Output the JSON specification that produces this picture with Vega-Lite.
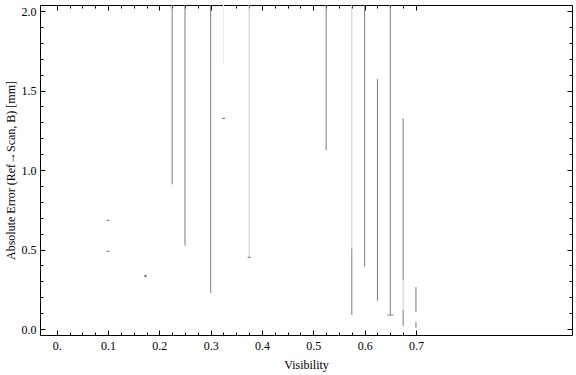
{
  "$schema": "https://vega.github.io/schema/vega-lite/v6.json",
  "width": 532,
  "height": 330,
  "autosize": "none",
  "padding": {"left": 40, "top": 5, "right": 4, "bottom": 40},
  "background": "white",
  "config": {
    "view": {"stroke": null},
    "font": "Liberation Serif",
    "axis": {
      "domainColor": "black",
      "domainWidth": 1,
      "tickColor": "black",
      "tickWidth": 1,
      "labelColor": "black",
      "labelFont": "Liberation Serif",
      "labelFontSize": 12,
      "titleFont": "Liberation Serif",
      "titleFontSize": 12,
      "titleFontWeight": "normal",
      "titleColor": "black",
      "grid": false
    }
  },
  "datasets": {
    "segs": [
      {"v": 0.225, "lo": 0.91, "hi": 2.2, "c": "gray"},
      {"v": 0.25, "lo": 0.524, "hi": 2.2, "c": "gray"},
      {"v": 0.3, "lo": 0.228, "hi": 2.2, "c": "gray"},
      {"v": 0.325, "lo": 1.667, "hi": 2.2, "c": "faint"},
      {"v": 0.375, "lo": 0.451, "hi": 2.2, "c": "blue"},
      {"v": 0.525, "lo": 1.126, "hi": 2.2, "c": "gray"},
      {"v": 0.575, "lo": 0.507, "hi": 2.2, "c": "blue"},
      {"v": 0.575, "lo": 0.088, "hi": 0.507, "c": "gray"},
      {"v": 0.6, "lo": 0.392, "hi": 2.2, "c": "gray"},
      {"v": 0.625, "lo": 0.178, "hi": 1.572, "c": "gray"},
      {"v": 0.65, "lo": 0.088, "hi": 2.2, "c": "gray"},
      {"v": 0.675, "lo": 0.31, "hi": 1.325, "c": "gray"},
      {"v": 0.675, "lo": 0.12, "hi": 0.31, "c": "blue"},
      {"v": 0.675, "lo": 0.02, "hi": 0.12, "c": "gray"},
      {"v": 0.7, "lo": 0.107, "hi": 0.264, "c": "gray"},
      {"v": 0.7, "lo": 0.006, "hi": 0.044, "c": "gray"}
    ],
    "dots": [
      {"v": 0.1, "e": 0.684, "k": "dash"},
      {"v": 0.1, "e": 0.489, "k": "dash"},
      {"v": 0.325, "e": 1.325, "k": "dash"},
      {"v": 0.375, "e": 0.451, "k": "dash"},
      {"v": 0.65, "e": 0.088, "k": "cap"},
      {"v": 0.173, "e": 0.333, "k": "dot"}
    ]
  },
  "layer": [
    {
      "data": {"name": "segs"},
      "mark": {"type": "rule", "strokeWidth": 1, "clip": true},
      "encoding": {
        "x": {
          "field": "v", "type": "quantitative",
          "scale": {"domain": [-0.0325, 1.004], "nice": false, "zero": false},
          "axis": {
            "orient": "bottom",
            "title": "Visibility",
            "titlePadding": 6,
            "values": [0, 0.025, 0.05, 0.075, 0.1, 0.125, 0.15, 0.175, 0.2, 0.225, 0.25, 0.275, 0.3, 0.325, 0.35, 0.375, 0.4, 0.425, 0.45, 0.475, 0.5, 0.525, 0.55, 0.575, 0.6, 0.625, 0.65, 0.675, 0.7],
            "labelExpr": "datum.value < 0.001 ? '0.' : (abs(datum.value*10 - round(datum.value*10)) < 0.001 ? format(datum.value, '.1f') : '')",
            "tickSize": {"condition": {"test": "abs(datum.value*10 - round(datum.value*10)) < 0.001", "value": -5}, "value": -3},
            "labelPadding": 10,
            "labelFlush": false,
            "labelOverlap": false
          }
        },
        "y": {
          "field": "lo", "type": "quantitative",
          "scale": {"domain": [-0.0377, 2.038], "nice": false, "zero": false},
          "axis": {
            "orient": "left",
            "title": "Absolute Error (Ref→Scan, B) [mm]",
            "titlePadding": 4,
            "values": [0, 0.1, 0.2, 0.3, 0.4, 0.5, 0.6, 0.7, 0.8, 0.9, 1.0, 1.1, 1.2, 1.3, 1.4, 1.5, 1.6, 1.7, 1.8, 1.9, 2.0],
            "labelExpr": "abs(datum.value*2 - round(datum.value*2)) < 0.001 ? format(datum.value, '.1f') : ''",
            "tickSize": {"condition": {"test": "abs(datum.value*2 - round(datum.value*2)) < 0.001", "value": -5}, "value": -3},
            "labelPadding": 9,
            "labelFlush": false,
            "labelOverlap": false
          }
        },
        "y2": {"field": "hi"},
        "color": {
          "field": "c", "type": "nominal",
          "scale": {"domain": ["gray", "blue", "faint"], "range": ["#7c7c7c", "#c3cbef", "#ececf0"]},
          "legend": null
        }
      }
    },
    {
      "data": {"name": "dots"},
      "transform": [{"filter": "datum.k === 'dash'"}],
      "mark": {"type": "tick", "orient": "horizontal", "size": 3, "thickness": 1, "color": "#6c6c6c", "opacity": 1},
      "encoding": {
        "x": {"field": "v", "type": "quantitative", "axis": null},
        "y": {"field": "e", "type": "quantitative", "axis": null}
      }
    },
    {
      "data": {"name": "dots"},
      "transform": [{"filter": "datum.k === 'cap'"}],
      "mark": {"type": "tick", "orient": "horizontal", "size": 6, "thickness": 1, "color": "#7c7c7c", "opacity": 1},
      "encoding": {
        "x": {"field": "v", "type": "quantitative", "axis": null},
        "y": {"field": "e", "type": "quantitative", "axis": null}
      }
    },
    {
      "data": {"name": "dots"},
      "transform": [{"filter": "datum.k === 'dot'"}],
      "mark": {"type": "square", "size": 5, "filled": true, "opacity": 1, "color": "#7c7c7c"},
      "encoding": {
        "x": {"field": "v", "type": "quantitative", "axis": null},
        "y": {"field": "e", "type": "quantitative", "axis": null}
      }
    },
    {
      "data": {"name": "segs"},
      "mark": {"type": "point", "opacity": 0},
      "encoding": {
        "x": {
          "field": "v", "type": "quantitative",
          "axis": {
            "orient": "top", "title": null, "labels": false,
            "values": [0, 0.025, 0.05, 0.075, 0.1, 0.125, 0.15, 0.175, 0.2, 0.225, 0.25, 0.275, 0.3, 0.325, 0.35, 0.375, 0.4, 0.425, 0.45, 0.475, 0.5, 0.525, 0.55, 0.575, 0.6, 0.625, 0.65, 0.675, 0.7],
            "tickSize": {"condition": {"test": "abs(datum.value*10 - round(datum.value*10)) < 0.001", "value": -5}, "value": -3}
          }
        },
        "y": {
          "field": "lo", "type": "quantitative",
          "axis": {
            "orient": "right", "title": null, "labels": false,
            "values": [0, 0.1, 0.2, 0.3, 0.4, 0.5, 0.6, 0.7, 0.8, 0.9, 1.0, 1.1, 1.2, 1.3, 1.4, 1.5, 1.6, 1.7, 1.8, 1.9, 2.0],
            "tickSize": {"condition": {"test": "abs(datum.value*2 - round(datum.value*2)) < 0.001", "value": -5}, "value": -3}
          }
        }
      }
    }
  ],
  "resolve": {"axis": {"x": "independent", "y": "independent"}}
}
